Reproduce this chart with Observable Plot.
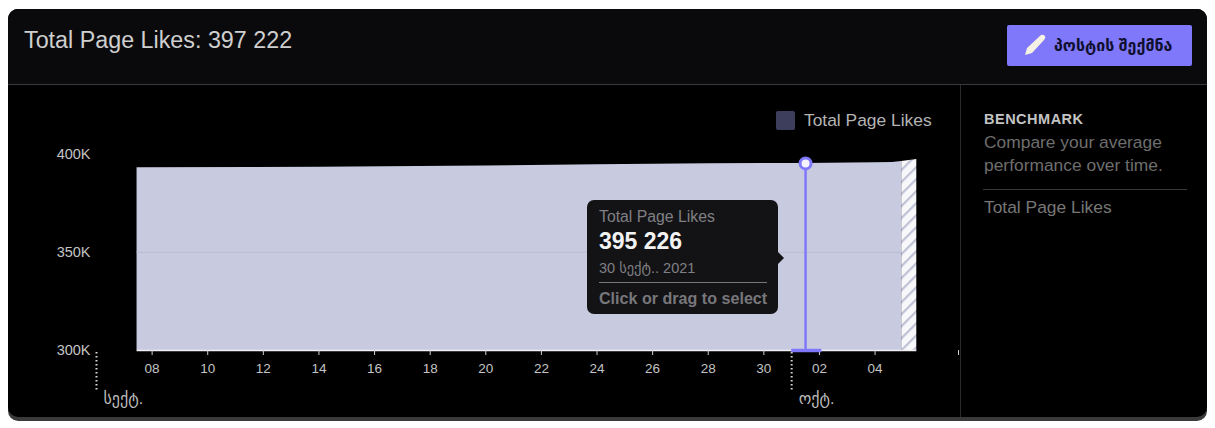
<!DOCTYPE html>
<html>
<head>
<meta charset="utf-8">
<script src="https://cdn.jsdelivr.net/npm/d3@7"></script>
<script src="https://cdn.jsdelivr.net/npm/@observablehq/plot@0.6"></script>
<style>
html,body{margin:0;padding:0;background:#fff;}
body{width:1215px;height:428px;overflow:hidden;position:relative;font-family:"Liberation Sans","DejaVu Sans",sans-serif;}
.abs{position:absolute;white-space:nowrap;}
#under{left:8px;top:9px;width:1199px;height:412px;background:#3a3a3a;border-radius:10px;}
#card{left:8px;top:9px;width:1199px;height:408px;background:#000;border-radius:10px;overflow:hidden;}
#head{left:8px;top:9px;width:1199px;height:75px;background:#0a0a0c;border-radius:10px 10px 0 0;border-bottom:1px solid #3a3a3a;box-sizing:content-box;}
#vline{left:960px;top:85px;width:1px;height:332px;background:#2a2a2a;}
#plot{left:0;top:0;}
#plot svg{display:block;}
</style>
</head>
<body>
<div class="abs" id="under"></div>
<div class="abs" id="card"></div>
<div class="abs" id="head"></div>
<div class="abs" id="vline"></div>
<div class="abs" style="left:24px;top:27px;font-size:23.3px;line-height:26px;color:#cfcfcf;">Total Page Likes: 397 222</div>
<div class="abs" style="left:1007px;top:25px;width:185px;height:41px;background:#7f78fa;border-radius:2px;"></div>
<svg class="abs" style="left:1022px;top:32px;" width="26" height="26" viewBox="0 0 26 26">
  <path d="M3 23 L5 16 L19 3 Q21 2 23 4 Q24 6 22 8 L10 21 Z" fill="#f4f1e4"/>
</svg>
<div class="abs" style="left:1054px;top:37px;font-size:16px;line-height:18px;font-weight:bold;color:#101030;">პოსტის შექმნა</div>

<div id="plot" class="abs"></div>

<div class="abs" style="left:776px;top:111px;width:19px;height:19px;background:#3d3e5c;border-radius:2px;"></div>
<div class="abs" style="left:804px;top:110px;font-size:17.4px;line-height:20px;color:#b4b4b4;">Total Page Likes</div>

<div class="abs" style="left:984px;top:110px;font-size:14.5px;line-height:18px;font-weight:bold;letter-spacing:.5px;color:#c4c4c4;">BENCHMARK</div>
<div class="abs" style="left:984px;top:131px;font-size:17.4px;line-height:23px;color:#6e6e6e;">Compare your average<br>performance over time.</div>
<div class="abs" style="left:983px;top:189px;width:204px;height:1px;background:#3a3a3a;"></div>
<div class="abs" style="left:984px;top:197px;font-size:17.4px;line-height:20px;color:#777;">Total Page Likes</div>

<div class="abs" style="left:587px;top:200px;width:191px;height:114px;background:#131316;border-radius:7px;"></div>
<svg class="abs" style="left:777px;top:251px;" width="8" height="14"><path d="M0 0 L7 7 L0 14 Z" fill="#131316"/></svg>
<div class="abs" style="left:599px;top:208px;font-size:15.8px;line-height:18px;color:#808084;">Total Page Likes</div>
<div class="abs" style="left:599px;top:228px;font-size:23px;line-height:26px;font-weight:bold;color:#f2f2f2;">395 226</div>
<div class="abs" style="left:599px;top:259px;font-size:14.5px;line-height:18px;color:#808084;">30 სექტ.. 2021</div>
<div class="abs" style="left:599px;top:282px;width:168px;height:1px;background:#77777b;"></div>
<div class="abs" style="left:599px;top:289px;font-size:16.1px;line-height:19px;font-weight:bold;color:#77777b;">Click or drag to select</div>

<script>
const t = s => new Date(s + "Z");

const areaDates  = ["2021-09-07T11:00","2021-09-14T00:00","2021-09-20T00:00","2021-09-24T00:00","2021-09-28T00:00","2021-10-01T12:00","2021-10-04T00:00","2021-10-04T15:00","2021-10-04T23:00"];
const areaValues = [393000,393200,393900,394500,395000,395226,395500,395700,396200];
const partialDates  = ["2021-10-04T23:00","2021-10-05T12:00"];
const partialValues = [396200,397222];

const tickDates  = ["2021-09-08","2021-09-10","2021-09-12","2021-09-14","2021-09-16","2021-09-18","2021-09-20","2021-09-22","2021-09-24","2021-09-26","2021-09-28","2021-09-30","2021-10-02","2021-10-04","2021-10-07"];
const tickLabels = ["08","10","12","14","16","18","20","22","24","26","28","30","02","04",""];
const yTicks = [300000,350000,400000];
const yLabels = ["300K","350K","400K"];
const monthDates  = ["2021-09-06","2021-10-01"];
const monthLabels = ["სექტ.","ოქტ."];
const hoverDate = "2021-10-01T12:00";
const hoverValue = 395226;
const baseValue = 300000;

const main = areaDates.map((d,i)=>({date:t(d),value:areaValues[i]}));
const partial = partialDates.map((d,i)=>({date:t(d),value:partialValues[i]}));
const ticks = tickDates.map(t);
const months = monthDates.map((d,i)=>({date:t(d),label:monthLabels[i]}));
const hover = t(hoverDate);

const chart = Plot.plot({
  width:1215, height:428,
  marginLeft:96, marginRight:257, marginTop:153.5, marginBottom:78,
  style:{background:"transparent",fontFamily:'"Liberation Sans","DejaVu Sans",sans-serif',overflow:"visible"},
  x:{type:"utc",domain:[t("2021-09-06"),t("2021-10-07")]},
  y:{domain:[300000,400000]},
  marks:[
    () => {
      const ns="http://www.w3.org/2000/svg";
      const defs=document.createElementNS(ns,"defs");
      defs.innerHTML='<pattern id="hatch" width="8.5" height="8.5" patternUnits="userSpaceOnUse" patternTransform="rotate(-45)"><rect width="8.5" height="8.5" fill="#f8f8fb"/><rect width="8.5" height="2.2" fill="#bfc2d6"/></pattern>';
      return defs;
    },
    Plot.areaY(main,{x:"date",y1:()=>baseValue,y2:"value",fill:"#c8cbe0"}),
    Plot.areaY(partial,{x:"date",y1:()=>baseValue,y2:"value",fill:"url(#hatch)"}),
    Plot.ruleY([350000],{x1:main[0].date,x2:main[main.length-1].date,stroke:"#b7bad0",strokeWidth:1}),
    Plot.ruleY([baseValue],{x1:main[0].date,x2:partial[1].date,stroke:"#eeeef4",strokeWidth:1.5}),
    Plot.axisY({ticks:yTicks,tickFormat:d=>yLabels[yTicks.indexOf(d)],tickSize:0,tickPadding:6,fontSize:14.5,color:"#c4c4c4",label:null}),
    Plot.axisX({ticks,tickFormat:d=>tickLabels[ticks.findIndex(k=>+k===+d)],tickSize:5,tickPadding:8,fontSize:13.5,color:"#c4c4c4",stroke:"#d0d0d0",label:null}),
    Plot.ruleX(months,{x:"date",y1:299000,y2:279500,stroke:"#d8d8d8",strokeWidth:2,strokeDasharray:"1.5 2.5"}),
    Plot.text(months,{x:"date",y:275500,text:"label",textAnchor:"start",dx:7,fontSize:16,fill:"#bdbdbd"}),
    Plot.ruleX([hover],{y1:baseValue,y2:hoverValue,stroke:"#7f78fa",strokeWidth:2.5}),
    Plot.ruleY([baseValue],{x1:t("2021-10-01T00:00"),x2:t("2021-10-02T02:00"),stroke:"#7f78fa",strokeWidth:3.5}),
    Plot.dot([{date:hover,value:hoverValue}],{x:"date",y:"value",r:5.5,fill:"#f4f4ff",stroke:"#7f78fa",strokeWidth:3})
  ]
});
document.getElementById("plot").appendChild(chart);
</script>
</body>
</html>
